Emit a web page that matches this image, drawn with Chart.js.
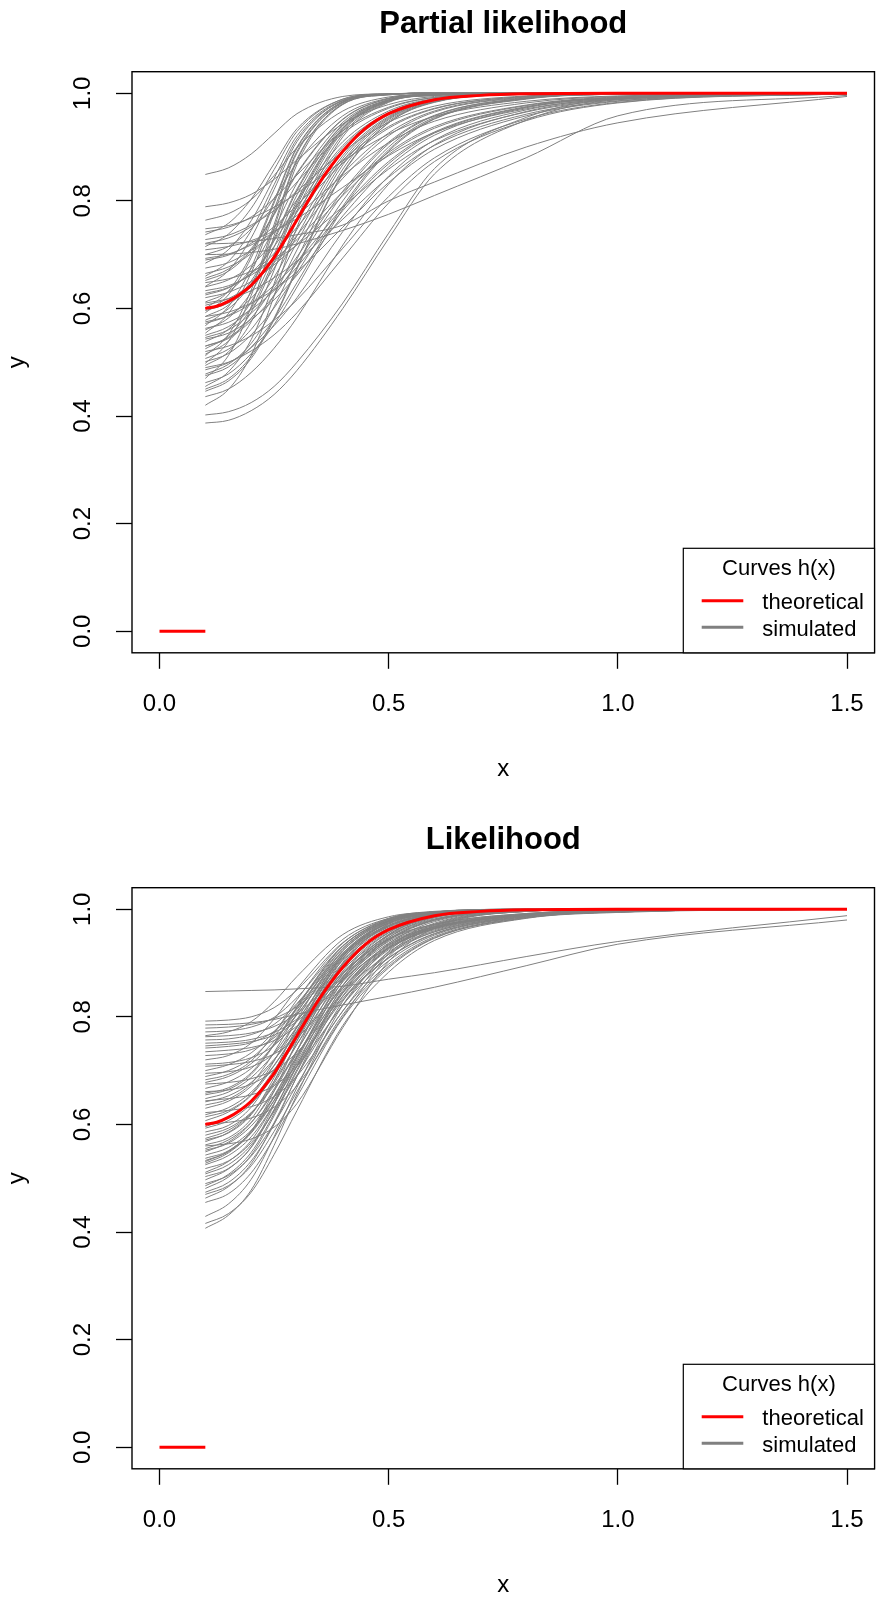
<!DOCTYPE html>
<html><head><meta charset="utf-8">
<script src="https://cdn.jsdelivr.net/npm/chart.js@4.4.1/dist/chart.umd.min.js"></script>
<style>
html,body{margin:0;padding:0;background:#fff;overflow:hidden;width:876px;height:1597px;}
.wrap{position:absolute;left:0;width:876px;height:816px;}
#w1{top:0}#w2{top:816px}
canvas{display:block}
</style></head><body>
<div class="wrap" id="w1"><canvas id="c1" width="876" height="816"></canvas></div>
<div class="wrap" id="w2"><canvas id="c2" width="876" height="816"></canvas></div>
<script>
// ---------- data ----------
const titles = ['Partial likelihood', 'Likelihood'];
const xTicks = [0, 0.5, 1.0, 1.5];
const yTicks = [0, 0.2, 0.4, 0.6, 0.8, 1.0];
const legendTitle = 'Curves h(x)';
const legendLabels = ['theoretical', 'simulated'];
const xGrid = [0.1, 0.15, 0.2, 0.25, 0.3, 0.4, 0.5, 0.6, 0.8, 1.0, 1.5];
const theoSegX = [0, 0.1];
const theoSegY = [0, 0];
const theoX = [0.1, 0.125, 0.15, 0.175, 0.2, 0.25, 0.3, 0.35, 0.4, 0.45, 0.5, 0.6, 0.7, 0.8, 1.0, 1.5];
const theoY = [0.600, 0.604, 0.613, 0.626, 0.643, 0.695, 0.765, 0.835, 0.892, 0.935, 0.962, 0.988, 0.996, 0.999, 1, 1];

const partialSim = [
[.849,.861,.887,.925,.962,.994,.999,1,1,1,1],
[.789,.796,.812,.840,.876,.943,.979,.994,.999,1,1],
[.764,.776,.802,.847,.899,.967,.993,.998,1,1,1],
[.748,.754,.768,.788,.814,.874,.924,.957,.985,.995,1],
[.737,.758,.803,.869,.934,.989,.999,1,1,1,1],
[.728,.736,.755,.782,.818,.891,.946,.976,.995,.999,1],
[.721,.731,.752,.788,.835,.925,.972,.992,.999,1,1],
[.709,.715,.726,.744,.767,.825,.884,.927,.971,.990,.999],
[.700,.715,.748,.805,.871,.958,.991,.998,1,1,1],
[.693,.701,.718,.742,.773,.847,.908,.948,.982,.994,.999],
[.684,.709,.763,.842,.921,.987,.998,1,1,1,1],
[.675,.685,.708,.740,.782,.870,.935,.971,.994,.999,1],
[.665,.677,.702,.745,.802,.910,.967,.990,.999,1,1],
[.656,.673,.711,.776,.852,.952,.990,.998,1,1,1],
[.648,.655,.669,.690,.718,.789,.859,.912,.965,.988,.999],
[.641,.670,.731,.821,.910,.986,.998,1,1,1,1],
[.633,.642,.662,.692,.728,.817,.890,.938,.978,.993,.999],
[.625,.638,.666,.715,.779,.899,.963,.989,.999,1,1],
[.612,.631,.674,.748,.833,.946,.988,.997,1,1,1],
[.606,.618,.645,.685,.736,.842,.921,.965,.992,.998,1],
[.592,.625,.694,.796,.898,.984,.998,1,1,1,1],
[.585,.593,.610,.635,.668,.751,.834,.896,.958,.985,.999],
[.578,.599,.646,.726,.819,.941,.987,.997,1,1,1],
[.572,.587,.619,.675,.747,.884,.957,.987,.999,1,1],
[.563,.574,.598,.633,.677,.782,.869,.926,.974,.991,.999],
[.554,.590,.666,.777,.889,.982,.998,1,1,1,1],
[.546,.560,.591,.637,.696,.818,.909,.959,.991,.998,1],
[.538,.561,.612,.700,.801,.935,.986,.997,1,1,1],
[.530,.546,.582,.643,.723,.873,.953,.986,.999,1,1],
[.520,.530,.549,.578,.616,.712,.808,.880,.952,.983,.999],
[.512,.551,.634,.756,.878,.980,.998,1,1,1,1],
[.501,.516,.551,.601,.666,.800,.900,.955,.990,.998,1],
[.494,.519,.575,.671,.782,.929,.985,.996,1,1,1],
[.486,.499,.527,.568,.620,.743,.846,.913,.969,.990,.999],
[.478,.496,.535,.603,.692,.859,.948,.984,.998,1,1],
[.470,.512,.603,.735,.868,.979,.997,1,1,1,1],
[.462,.478,.516,.570,.640,.785,.892,.952,.989,.998,1],
[.455,.482,.542,.646,.766,.924,.984,.996,1,1,1],
[.446,.465,.507,.579,.673,.850,.945,.983,.998,1,1],
[.436,.450,.481,.526,.583,.718,.831,.904,.966,.989,.999],
[.420,.449,.513,.623,.751,.919,.983,.996,1,1,1],
[.402,.408,.425,.455,.500,.610,.740,.860,.955,.990,1],
[.387,.392,.410,.440,.485,.600,.730,.850,.950,.988,1],
[.720,.721,.724,.730,.737,.755,.800,.835,.900,.945,.994],
[.700,.701,.704,.710,.720,.745,.775,.810,.880,.958,.996],
[.596,.610,.640,.693,.762,.891,.960,.988,.999,1,1],
[.568,.603,.676,.784,.892,.983,.998,1,1,1,1],
[.543,.554,.580,.616,.662,.772,.863,.922,.973,.991,.999],
[.525,.549,.601,.691,.796,.934,.986,.997,1,1,1],
[.507,.524,.561,.625,.709,.867,.951,.985,.999,1,1],
[.490,.500,.521,.551,.592,.694,.796,.873,.949,.982,.999],
[.620,.630,.650,.681,.719,.810,.886,.935,.977,.992,.999],
[.660,.687,.745,.830,.915,.986,.998,1,1,1,1],
[.530,.544,.577,.624,.685,.812,.906,.958,.991,.998,1],
[.560,.582,.630,.714,.811,.938,.987,.997,1,1,1],
[.610,.618,.633,.657,.688,.766,.844,.903,.961,.986,.999],
[.742,.751,.770,.804,.848,.930,.974,.992,.999,1,1],
[.715,.738,.786,.858,.929,.989,.999,1,1,1,1],
[.690,.699,.721,.752,.792,.876,.938,.972,.994,.999,1],
[.652,.669,.708,.774,.850,.951,.990,.998,1,1,1],
[.628,.639,.665,.702,.751,.851,.926,.967,.993,.999,1],
[.600,.632,.700,.800,.900,.984,.998,1,1,1,1],
[.575,.586,.609,.643,.686,.788,.873,.928,.975,.992,.999],
[.550,.566,.600,.658,.735,.879,.955,.987,.999,1,1],
[.515,.539,.593,.685,.791,.932,.985,.997,1,1,1],
[.498,.538,.624,.749,.875,.980,.997,1,1,1,1],
[.475,.491,.528,.580,.648,.790,.895,.953,.990,.998,1],
[.450,.469,.511,.582,.676,.852,.945,.984,.998,1,1],
[.640,.653,.680,.726,.788,.903,.964,.989,.999,1,1],
[.585,.606,.651,.730,.822,.942,.988,.997,1,1,1]
];

const likeSim = [
[.847,.848,.849,.850,.852,.857,.870,.882,.912,.940,.988],
[.785,.786,.789,.795,.805,.822,.838,.855,.895,.935,.980],
[.792,.794,.800,.817,.850,.938,.983,.996,1,1,1],
[.779,.781,.786,.797,.819,.890,.951,.982,.998,1,1],
[.772,.774,.781,.799,.836,.932,.982,.995,1,1,1],
[.763,.765,.770,.782,.806,.882,.948,.981,.998,1,1],
[.757,.759,.767,.786,.825,.927,.981,.995,1,1,1],
[.751,.753,.758,.771,.796,.876,.945,.980,.998,1,1],
[.742,.745,.752,.773,.814,.923,.979,.995,1,1,1],
[.735,.738,.743,.756,.783,.868,.942,.979,.997,1,1],
[.728,.731,.739,.761,.804,.918,.978,.995,.999,1,1],
[.720,.728,.751,.796,.852,.944,.983,.994,.999,1,1],
[.708,.711,.717,.731,.761,.854,.936,.977,.997,1,1],
[.695,.698,.707,.732,.780,.909,.976,.994,.999,1,1],
[.689,.700,.723,.764,.817,.916,.969,.991,.999,1,1],
[.683,.693,.718,.769,.832,.937,.981,.994,.999,1,1],
[.675,.678,.685,.701,.734,.838,.929,.974,.997,1,1],
[.667,.679,.704,.747,.804,.910,.967,.990,.999,1,1],
[.661,.664,.675,.702,.756,.898,.973,.993,.999,1,1],
[.655,.665,.693,.748,.817,.931,.979,.993,.999,1,1],
[.648,.660,.687,.732,.792,.905,.965,.989,.999,1,1],
[.642,.653,.678,.721,.771,.868,.928,.964,.989,.996,1],
[.636,.647,.676,.734,.807,.927,.978,.993,.999,1,1],
[.630,.643,.671,.719,.782,.900,.963,.989,.999,1,1],
[.622,.626,.633,.652,.690,.811,.917,.970,.996,1,1],
[.614,.626,.656,.718,.795,.923,.977,.992,.999,1,1],
[.607,.623,.654,.709,.772,.882,.945,.972,.992,.998,1],
[.593,.607,.638,.691,.760,.890,.959,.988,.999,1,1],
[.586,.598,.632,.698,.781,.917,.975,.992,.999,1,1],
[.580,.593,.622,.672,.731,.845,.916,.958,.987,.996,1],
[.574,.589,.621,.676,.749,.885,.957,.987,.999,1,1],
[.568,.585,.620,.680,.749,.870,.940,.970,.991,.998,1],
[.562,.575,.610,.680,.768,.912,.974,.991,.999,1,1],
[.555,.571,.604,.662,.737,.880,.956,.987,.999,1,1],
[.549,.567,.603,.666,.738,.865,.937,.968,.990,.998,1],
[.543,.557,.589,.644,.708,.831,.909,.954,.986,.995,1],
[.537,.551,.588,.662,.755,.907,.972,.991,.999,1,1],
[.531,.550,.587,.653,.728,.859,.934,.967,.990,.998,1],
[.525,.542,.577,.639,.720,.872,.953,.986,.999,1,1],
[.518,.532,.566,.624,.692,.822,.904,.952,.986,.995,1],
[.511,.531,.570,.638,.716,.853,.932,.966,.989,.998,1],
[.503,.518,.558,.637,.737,.901,.970,.990,.999,1,1],
[.497,.517,.557,.628,.708,.849,.930,.965,.989,.997,1],
[.490,.505,.541,.602,.674,.811,.898,.949,.985,.995,1],
[.481,.502,.543,.616,.699,.844,.927,.964,.989,.997,1],
[.474,.492,.532,.600,.690,.858,.947,.984,.998,1,1],
[.463,.484,.527,.603,.689,.839,.925,.962,.989,.997,1],
[.455,.471,.510,.575,.651,.798,.891,.946,.984,.995,1],
[.429,.452,.498,.577,.669,.829,.920,.960,.989,.997,1],
[.416,.434,.474,.544,.626,.784,.883,.942,.983,.994,1],
[.407,.431,.478,.561,.656,.822,.917,.958,.988,.997,1],
[.600,.604,.612,.632,.672,.800,.912,.968,.996,1,1],
[.700,.711,.733,.772,.823,.919,.970,.991,.999,1,1],
[.765,.772,.791,.828,.875,.953,.986,.995,1,1,1],
[.560,.564,.573,.595,.639,.780,.903,.965,.996,1,1],
[.746,.749,.754,.766,.792,.873,.944,.980,.997,1,1],
[.712,.715,.724,.747,.793,.914,.977,.994,.999,1,1],
[.678,.689,.713,.755,.810,.913,.968,.990,.999,1,1],
[.644,.648,.655,.672,.708,.822,.922,.972,.996,1,1],
[.618,.631,.660,.710,.775,.897,.962,.989,.999,1,1],
[.596,.612,.644,.701,.766,.879,.943,.972,.992,.998,1],
[.571,.584,.618,.687,.773,.914,.974,.991,.999,1,1],
[.552,.565,.597,.651,.713,.834,.910,.955,.987,.996,1],
[.528,.547,.585,.651,.726,.858,.934,.967,.991,.998,1],
[.508,.525,.562,.626,.710,.867,.951,.985,.999,1,1],
[.486,.507,.548,.620,.702,.846,.928,.964,.989,.997,1],
[.470,.486,.523,.587,.661,.804,.894,.947,.984,.995,1],
[.658,.668,.696,.750,.819,.932,.979,.993,.999,1,1],
[.533,.549,.584,.645,.724,.874,.953,.986,.999,1,1]
];

// ---------- rendering ----------
const FONT = "'Liberation Sans', Arial, Helvetica, sans-serif";
const RED = '#ff0000';
const GRAY = '#808080';
function pts(xs, ys) { return xs.map((x, i) => ({x: x, y: ys[i]})); }

const rPlotPlugin = {
  id: 'rPlot',
  afterDraw(chart) {
    const ctx = chart.ctx, a = chart.chartArea;
    ctx.save();
    ctx.strokeStyle = '#000';
    ctx.lineWidth = 1.4;
    ctx.strokeRect(a.left, a.top, a.right - a.left, a.bottom - a.top);
    // legend box (R style, bottom-right)
    const bw = 191.2, bh = 104.5;
    const bl = a.right - bw, bt = a.bottom - bh;
    ctx.fillStyle = '#fff';
    ctx.fillRect(bl, bt, bw, bh);
    ctx.lineWidth = 1.2;
    ctx.strokeRect(bl, bt, bw, bh);
    ctx.fillStyle = '#000';
    ctx.font = '22px ' + FONT;
    ctx.textBaseline = 'alphabetic';
    ctx.textAlign = 'center';
    ctx.fillText(legendTitle, bl + bw / 2, a.bottom - 78.3);
    const rows = [[legendLabels[0], RED, a.bottom - 52.1, a.bottom - 43.8],
                  [legendLabels[1], GRAY, a.bottom - 25.5, a.bottom - 17.1]];
    ctx.textAlign = 'left';
    rows.forEach(r => {
      ctx.strokeStyle = r[1];
      ctx.lineWidth = 3;
      ctx.beginPath();
      ctx.moveTo(bl + 18.4, r[2]);
      ctx.lineTo(bl + 60, r[2]);
      ctx.stroke();
      ctx.fillStyle = '#000';
      ctx.fillText(r[0], bl + 79, r[3]);
    });
    ctx.restore();
  }
};

function makeChart(id, title, sims) {
  const datasets = [];
  datasets.push({label: 'theoretical', data: pts(theoX, theoY), borderColor: RED, borderWidth: 3,
    pointRadius: 0, cubicInterpolationMode: 'monotone', fill: false, order: 0});
  datasets.push({label: 'theoretical0', data: pts(theoSegX, theoSegY), borderColor: RED, borderWidth: 3,
    pointRadius: 0, fill: false, order: 0});
  sims.forEach((s, i) => datasets.push({label: 'sim' + i, data: pts(xGrid, s), borderColor: GRAY,
    borderWidth: 1, pointRadius: 0, cubicInterpolationMode: 'monotone', fill: false, order: 1}));
  return new Chart(document.getElementById(id), {
    type: 'line',
    data: {datasets: datasets},
    options: {
      responsive: false, animation: false, devicePixelRatio: 1, events: [],
      layout: {padding: {left: 0, right: 1.5, top: 0, bottom: 0}},
      plugins: {
        legend: {display: false}, tooltip: {enabled: false},
        title: {display: true, text: title, fullSize: false, color: '#000',
          font: {family: FONT, size: 31, weight: 'bold'}, padding: {top: 6, bottom: 28.5}}
      },
      scales: {
        x: {
          type: 'linear', position: 'bottom', min: -0.06, max: 1.56,
          afterBuildTicks(s) { s.ticks = xTicks.map(v => ({value: v})); },
          afterFit(s) { s.height = 163.2; s.paddingLeft = 0; s.paddingRight = 0; },
          ticks: {autoSkip: false, maxRotation: 0, minRotation: 0, padding: 21.5, color: '#000',
            font: {family: FONT, size: 24}, callback: v => Number(v).toFixed(1)},
          grid: {drawOnChartArea: false, drawTicks: true, tickLength: 16, tickColor: '#000', tickWidth: 1.3, color: '#000'},
          border: {display: false},
          title: {display: true, text: 'x', color: '#000', font: {family: FONT, size: 24}, padding: {top: 0, bottom: 31.8}}
        },
        y: {
          type: 'linear', position: 'left', min: -0.04, max: 1.04,
          afterBuildTicks(s) { s.ticks = yTicks.map(v => ({value: v})); },
          afterFit(s) { s.width = 132; s.paddingTop = 0; s.paddingBottom = 0; },
          ticks: {autoSkip: false, minRotation: 90, maxRotation: 90, crossAlign: 'center', padding: 16,
            color: '#000', font: {family: FONT, size: 24}, callback: v => Number(v).toFixed(1)},
          grid: {drawOnChartArea: false, drawTicks: true, tickLength: 16, tickColor: '#000', tickWidth: 1.3, color: '#000'},
          border: {display: false},
          title: {display: true, text: 'y', color: '#000', font: {family: FONT, size: 24}, padding: {top: 3, bottom: 0}}
        }
      }
    },
    plugins: [rPlotPlugin]
  });
}
makeChart('c1', titles[0], partialSim);
makeChart('c2', titles[1], likeSim);
</script></body></html>
